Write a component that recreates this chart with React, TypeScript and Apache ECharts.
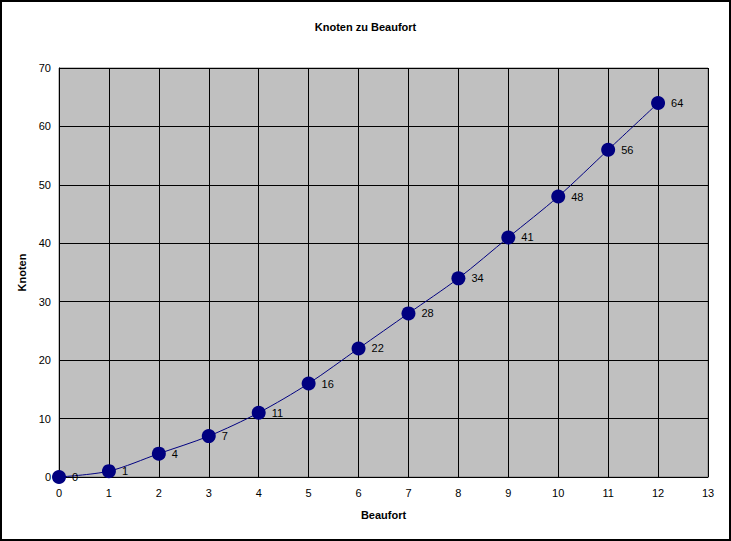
import { useEffect, useRef } from "react";
import * as echarts from "echarts";

const beaufort = [0, 1, 2, 3, 4, 5, 6, 7, 8, 9, 10, 11, 12];
const knoten = [0, 1, 4, 7, 11, 16, 22, 28, 34, 41, 48, 56, 64];

const font = "Liberation Sans, Arial, sans-serif";

export default function App() {
  const ref = useRef<HTMLDivElement | null>(null);

  useEffect(() => {
    document.body.style.margin = "0";
    const el = ref.current!;
    const chart = echarts.init(el, null, { renderer: "svg" });
    chart.setOption({
      animation: false,
      backgroundColor: "#fff",
      textStyle: { fontFamily: font },
      title: {
        text: "Knoten zu Beaufort",
        left: "center",
        top: 16,
        textStyle: { fontSize: 11, fontWeight: "bold", color: "#000", fontFamily: font },
      },
      graphic: [{
        type: "rect",
        shape: { x: 1, y: 1, width: 729, height: 539 },
        style: { fill: "none", stroke: "#000", lineWidth: 2 },
        silent: true,
      }],
      grid: {
        left: 59, right: 23, top: 68, bottom: 64,
        show: true, backgroundColor: "#C0C0C0", borderColor: "#808080", borderWidth: 1,
      },
      xAxis: {
        type: "value", min: 0, max: 13, interval: 1,
        name: "Beaufort", nameLocation: "middle", nameGap: 32,
        nameTextStyle: { fontSize: 11, fontWeight: "bold", color: "#000", fontFamily: font },
        axisLine: { lineStyle: { color: "#000", width: 1 } },
        axisTick: { show: false },
        axisLabel: { fontSize: 11, color: "#000", margin: 10, fontFamily: font },
        splitLine: { lineStyle: { color: "#000", width: 1 } },
      },
      yAxis: {
        type: "value", min: 0, max: 70, interval: 10,
        name: "Knoten", nameLocation: "middle", nameGap: 27,
        nameTextStyle: { fontSize: 11, fontWeight: "bold", color: "#000", fontFamily: font },
        axisLine: { show: true, lineStyle: { color: "#000", width: 1 } },
        axisTick: { show: false },
        axisLabel: { fontSize: 11, color: "#000", margin: 8, fontFamily: font },
        splitLine: { lineStyle: { color: "#000", width: 1 } },
      },
      series: [{
        type: "line",
        data: beaufort.map((b, i) => [b, knoten[i]]),
        smooth: 0.3,
        symbol: "circle",
        symbolSize: 14,
        itemStyle: { color: "#000080" },
        lineStyle: { color: "#000080", width: 1 },
        label: {
          show: true, position: "right", distance: 6,
          fontSize: 11, color: "#000", fontFamily: font,
          formatter: (p: any) => String(p.value[1]),
        },
      }],
    });
    return () => chart.dispose();
  }, []);

  return <div ref={ref} style={{ width: 731, height: 541 }} />;
}
